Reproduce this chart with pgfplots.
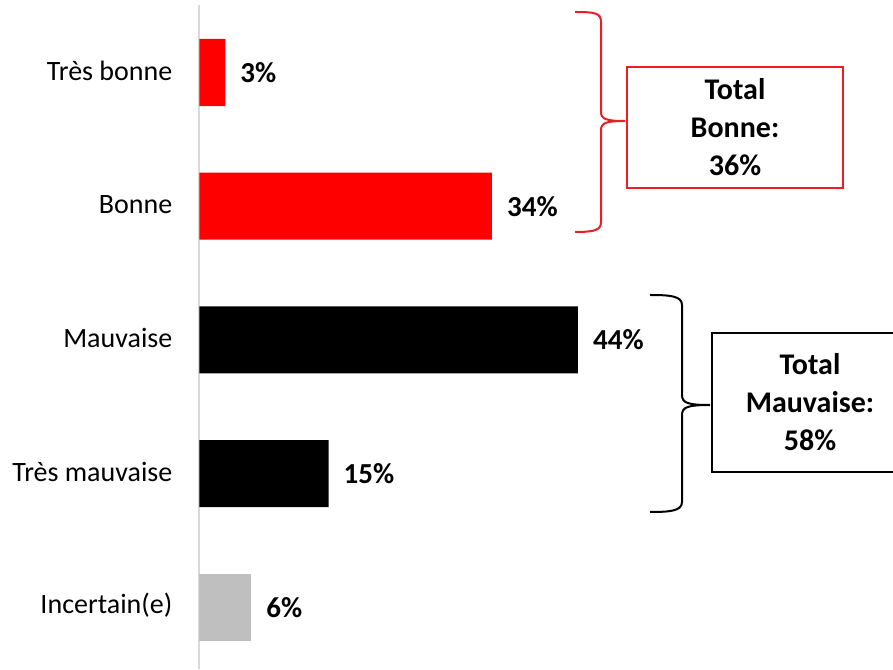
\documentclass[border=0pt]{standalone}
\usepackage{pgfplots}
\pgfplotsset{compat=1.18}
\usepackage{fontspec}
\setmainfont{Carlito}
\usetikzlibrary{calc}
\definecolor{myred}{RGB}{255,0,0}
\definecolor{linered}{RGB}{235,30,38}
\definecolor{mygray}{RGB}{191,191,191}
\definecolor{axgray}{RGB}{217,217,217}
\begin{document}
\begin{tikzpicture}
\begin{axis}[
  name=ax,
  scale only axis,
  width=693.5pt, height=664pt,
  xmin=0, xmax=80.64,
  ymin=-0.5047, ymax=4.460,
  y dir=reverse,
  xbar, bar width=67pt, bar shift=0pt,
  hide x axis,
  axis y line*=left,
  y axis line style={axgray, line width=2pt},
  ytick={0,1,2,3,4},
  yticklabels={Très bonne, Bonne, Mauvaise, Très mauvaise, Incertain(e)},
  major tick length=0pt,
  yticklabel style={font=\fontsize{28}{34}\selectfont, inner sep=0pt, xshift=-27pt, yshift=2pt},
  /pgf/number format/assume math mode=true,
  point meta=x,
  nodes near coords={\pgfmathprintnumber{\pgfplotspointmeta}\%},
  nodes near coords style={font=\bfseries\fontsize{29}{34}\selectfont, anchor=west, inner sep=0pt, xshift=15pt, black},
  clip=false,
]
\addplot[fill=myred, draw=none] coordinates {(3,0) (34,1)};
\addplot[fill=black, draw=none] coordinates {(44,2) (15,3)};
\addplot[fill=mygray, draw=none] coordinates {(6,4)};
\end{axis}
\coordinate (O) at ([xshift=-199.5pt, yshift=5pt]ax.north west);
\begin{scope}[shift={(O)}, x=1pt, y=-1pt]
  % red brace
  \draw[linered, line width=2pt]
    (575,12) .. controls (595,12) and (601,13) .. (601,22) -- (601,112)
    .. controls (601,119) and (606,121) .. (625,121)
    .. controls (606,121) and (601,123) .. (601,130) -- (601,222)
    .. controls (601,230) and (595,232) .. (575,232);
  \draw[linered, line width=2pt] (627,67) rectangle (843,188);
  \node[align=center, font=\bfseries\fontsize{30}{38}\selectfont] at (735,127.5) {Total\\Bonne:\\36\%};
  % black brace
  \draw[black, line width=2pt]
    (650,295) .. controls (670,295) and (682,296) .. (682,305) -- (682,395)
    .. controls (682,403) and (688,405) .. (710,405)
    .. controls (688,405) and (682,407) .. (682,415) -- (682,502)
    .. controls (682,511) and (670,512) .. (650,512);
  \draw[black, line width=1.6pt] (712,333) rectangle (912,472);
  \node[align=center, font=\bfseries\fontsize{30}{38}\selectfont] at (810,402.5) {Total\\Mauvaise:\\58\%};
\end{scope}
\pgfresetboundingbox
\path (O) rectangle ++(893pt,-669pt);
\end{tikzpicture}
\end{document}
